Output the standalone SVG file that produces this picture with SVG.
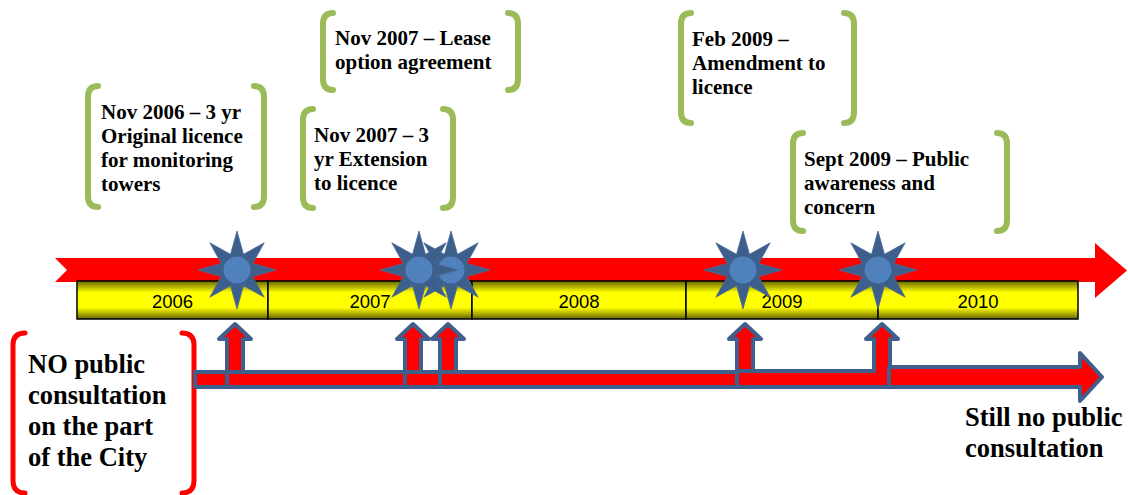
<svg xmlns="http://www.w3.org/2000/svg" width="1128" height="495" viewBox="0 0 1128 495">
<style>
.gb{fill:none;stroke:#9BBB59;stroke-width:6;stroke-linecap:round}
.rb{fill:none;stroke:#FF0000;stroke-width:5;stroke-linecap:round}
.t{font-family:"Liberation Serif","Times New Roman",serif;font-weight:bold;font-size:21px;fill:#000}
.big{font-family:"Liberation Serif","Times New Roman",serif;font-weight:bold;font-size:26.5px;fill:#000}
.yr{font-family:"Liberation Sans",Arial,sans-serif;font-size:18.5px;fill:#000;text-anchor:middle}
.seg{fill:url(#yg);stroke:#000;stroke-width:1.5}
.ba{fill:#FF0000;stroke:#3F5F8C;stroke-width:4;stroke-linejoin:round}
.star{fill:#3D5F8C;stroke:#4A6B97;stroke-width:0.8}
.dot{fill:#4F81BD}
</style>
<defs>
<linearGradient id="yg" x1="0" y1="0" x2="0" y2="1">
<stop offset="0" stop-color="#666600"/>
<stop offset="0.3" stop-color="#FFFF00"/>
<stop offset="0.7" stop-color="#FFFF00"/>
<stop offset="1" stop-color="#666600"/>
</linearGradient>
<polygon id="st" points="0,-39 6.5,-15.7 27.2,-27.2 15.7,-6.5 39,0 15.7,6.5 27.2,27.2 6.5,15.7 0,39 -6.5,15.7 -27.2,27.2 -15.7,6.5 -39,0 -15.7,-6.5 -27.2,-27.2 -6.5,-15.7"/>
</defs>

<g id="timeline-arrow">
<polygon points="55,258 1095,258 1095,243 1127,270.5 1095,298 1095,282 55,282 67,270" fill="#FF0000"/>
</g>

<g id="year-bar">
<rect class="seg" x="77" y="281" width="191" height="38"/>
<rect class="seg" x="268" y="281" width="204" height="38"/>
<rect class="seg" x="472" y="281" width="214" height="38"/>
<rect class="seg" x="686" y="281" width="192" height="38"/>
<rect class="seg" x="878" y="281" width="200" height="38"/>
<text class="yr" x="172.5" y="308">2006</text>
<text class="yr" x="370" y="308">2007</text>
<text class="yr" x="579" y="308">2008</text>
<text class="yr" x="782" y="308">2009</text>
<text class="yr" x="978" y="308">2010</text>
</g>

<g id="stars">
<g id="star-2007b"><use href="#st" class="star" x="451" y="270"/><circle class="dot" cx="451" cy="270" r="13.5"/></g>
<g id="star-2006"><use href="#st" class="star" x="237" y="270"/><circle class="dot" cx="237" cy="270" r="13.5"/></g>
<g id="star-2007a"><use href="#st" class="star" x="419" y="270"/><circle class="dot" cx="419" cy="270" r="13.5"/></g>
<g id="star-2009a"><use href="#st" class="star" x="743" y="270"/><circle class="dot" cx="743" cy="270" r="13.5"/></g>
<g id="star-2009b"><use href="#st" class="star" x="878" y="270"/><circle class="dot" cx="878" cy="270" r="13.5"/></g>
</g>

<g id="no-consultation">
<path class="rb" d="M25,333 Q13,333 13,345 V481 Q13,493 25,493"/>
<path class="rb" d="M182,333 Q194,333 194,345 V481 Q194,493 182,493"/>
<text class="big" x="28" y="373">NO public</text>
<text class="big" x="28" y="404">consultation</text>
<text class="big" x="28" y="435">on the part</text>
<text class="big" x="28" y="466">of the City</text>
</g>

<g id="connectors">
<path class="ba" d="M195,372 H227 V339 H219 L235,324 L251,339 H243 V387 H195 Z"/>
<path class="ba" d="M227,372 H405 V339 H397 L413,324 L429,339 H421 V387 H227 Z"/>
<path class="ba" d="M405,372 H440 V339 H432 L448,324 L464,339 H456 V387 H405 Z"/>
<path class="ba" d="M440,372 H737 V339 H729 L745,324 L761,339 H753 V387 H440 Z"/>
<path class="ba" d="M737,371 H874 V339 H866 L882,324 L898,339 H890 V387 H737 Z"/>
<path class="ba" d="M889,367 H1080 V353 L1102,377 L1080,401 V387 H889 Z"/>
</g>

<g id="still-no">
<text class="big" x="965" y="426">Still no public</text>
<text class="big" x="965" y="457">consultation</text>
</g>

<g id="event-nov2006">
<path class="gb" d="M98,86 Q88,86 88,97 V196 Q88,207 98,207"/>
<path class="gb" d="M254,86 Q264,86 264,97 V196 Q264,207 254,207"/>
<text class="t" x="101" y="119">Nov 2006 – 3 yr</text>
<text class="t" x="101" y="143">Original licence</text>
<text class="t" x="101" y="167">for monitoring</text>
<text class="t" x="101" y="191">towers</text>
</g>

<g id="event-nov2007-lease">
<path class="gb" d="M333,13 Q323,13 323,24 V79 Q323,90 333,90"/>
<path class="gb" d="M508,13 Q518,13 518,24 V79 Q518,90 508,90"/>
<text class="t" x="335" y="45">Nov 2007 – Lease</text>
<text class="t" x="335" y="69">option agreement</text>
</g>

<g id="event-nov2007-ext">
<path class="gb" d="M313,109 Q303,109 303,120 V197 Q303,208 313,208"/>
<path class="gb" d="M443,109 Q453,109 453,120 V197 Q453,208 443,208"/>
<text class="t" x="314" y="142">Nov 2007 – 3</text>
<text class="t" x="314" y="166">yr Extension</text>
<text class="t" x="314" y="190">to licence</text>
</g>

<g id="event-feb2009">
<path class="gb" d="M691,13 Q681,13 681,24 V112 Q681,123 691,123"/>
<path class="gb" d="M844,13 Q854,13 854,24 V112 Q854,123 844,123"/>
<text class="t" x="692" y="46">Feb 2009 –</text>
<text class="t" x="692" y="70">Amendment to</text>
<text class="t" x="692" y="94">licence</text>
</g>

<g id="event-sept2009">
<path class="gb" d="M803,133 Q793,133 793,144 V220 Q793,231 803,231"/>
<path class="gb" d="M997,133 Q1007,133 1007,144 V220 Q1007,231 997,231"/>
<text class="t" x="804" y="166">Sept 2009 – Public</text>
<text class="t" x="804" y="190">awareness and</text>
<text class="t" x="804" y="214">concern</text>
</g>
</svg>
